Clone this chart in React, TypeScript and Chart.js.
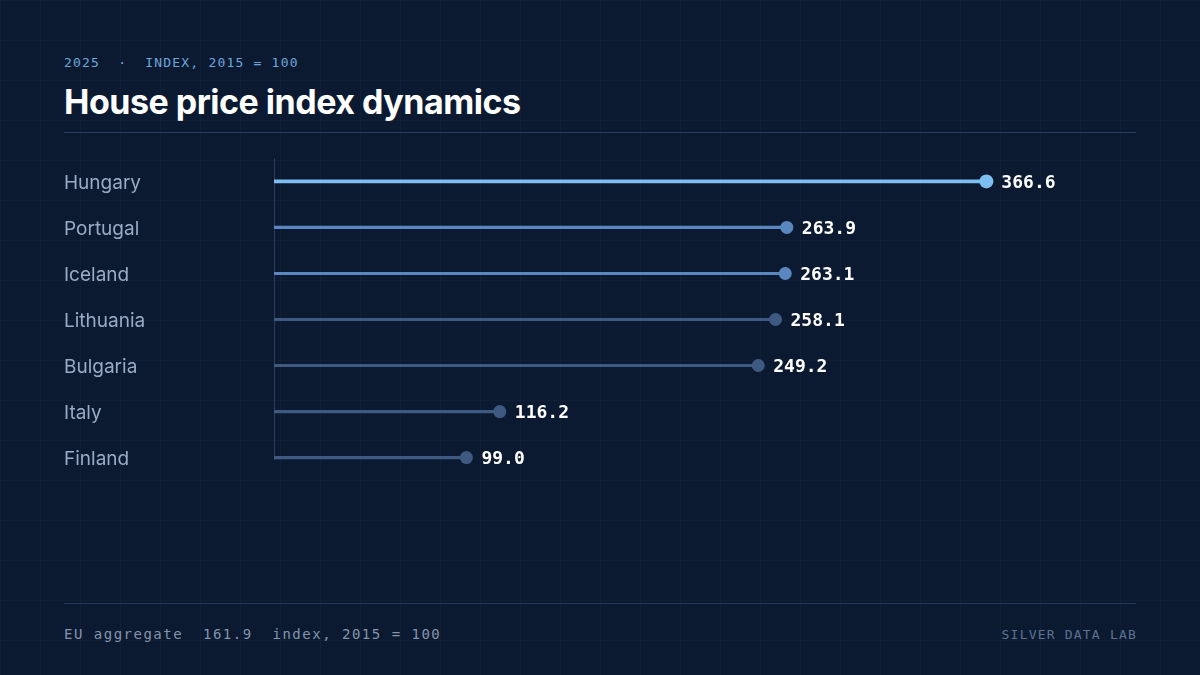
import React, { useEffect, useRef } from "react";
import { Chart, registerables } from "chart.js";

Chart.register(...registerables);

const countries = ["Hungary", "Portugal", "Iceland", "Lithuania", "Bulgaria", "Italy", "Finland"];
const values = [366.6, 263.9, 263.1, 258.1, 249.2, 116.2, 99.0];
const tiers = [0, 1, 1, 2, 2, 2, 2];
const tierColors = ["#7dbff2", "#5b87c0", "#3f5a82"];
const xMax = 440;

const BG = "#0b1a31";

export default function App() {
  const ref = useRef<HTMLCanvasElement | null>(null);

  useEffect(() => {
    document.body.style.margin = "0";
    const canvas = ref.current;
    if (!canvas) return;

    const stemsMain = values.map((v, i) => (tiers[i] === 0 ? v : null));
    const stemsRest = values.map((v, i) => (tiers[i] !== 0 ? v : null));

    const extras = {
      id: "lollipopExtras",
      beforeDatasetsDraw(chart: any) {
        const { ctx, chartArea } = chart;
        const yScale = chart.scales.y;
        const lastY = yScale.getPixelForValue(countries.length - 1);
        ctx.save();
        ctx.strokeStyle = "#2b3e5e";
        ctx.lineWidth = 1;
        ctx.beginPath();
        ctx.moveTo(chartArea.left + 0.5, chartArea.top);
        ctx.lineTo(chartArea.left + 0.5, lastY + 2);
        ctx.stroke();
        ctx.restore();
      },
      afterDatasetsDraw(chart: any) {
        const { ctx } = chart;
        const meta = chart.getDatasetMeta(2);
        ctx.save();
        ctx.font = "bold 18px 'DejaVu Sans Mono', monospace";
        ctx.fillStyle = "#ffffff";
        ctx.textAlign = "left";
        ctx.textBaseline = "middle";
        meta.data.forEach((pt: any, i: number) => {
          ctx.fillText(values[i].toFixed(1), pt.x + 15, pt.y + 2);
        });
        ctx.restore();
      },
    };

    const chart = new Chart(canvas, {
      data: {
        labels: countries,
        datasets: [
          {
            type: "bar",
            data: stemsMain as any,
            backgroundColor: tierColors[0],
            barThickness: 3,
            grouped: false,
            borderWidth: 0,
          } as any,
          {
            type: "bar",
            data: stemsRest as any,
            backgroundColor: values.map((_, i) => tierColors[tiers[i]]),
            barThickness: 2.5,
            grouped: false,
            borderWidth: 0,
          } as any,
          {
            type: "line",
            indexAxis: "y",
            data: values,
            showLine: false,
            pointRadius: values.map((_, i) => (tiers[i] === 0 ? 7 : 6.5)),
            pointBackgroundColor: values.map((_, i) => tierColors[tiers[i]]),
            pointBorderWidth: 0,
            pointHoverRadius: 7,
          } as any,
        ],
      },
      options: {
        indexAxis: "y",
        responsive: false,
        animation: false,
        maintainAspectRatio: false,
        layout: { padding: { left: 0, right: 6, top: 0, bottom: 0 } },
        plugins: {
          legend: { display: false },
          tooltip: { enabled: false },
        },
        scales: {
          x: {
            display: false,
            min: 0,
            max: xMax,
          },
          y: {
            type: "category",
            grid: { display: false, drawTicks: false },
            border: { display: false },
            afterFit: (s: any) => {
              s.width = 210;
            },
            ticks: {
              crossAlign: "far",
              padding: 0,
              labelOffset: 2,
              color: "#9aabc5",
              font: { family: "Inter, 'Noto Sans', sans-serif", size: 19, weight: 400 },
            },
          },
        },
      } as any,
      plugins: [extras],
    });
    return () => chart.destroy();
  }, []);

  const mono = "'DejaVu Sans Mono', 'Liberation Mono', monospace";

  return (
    <div
      style={{
        position: "relative",
        width: 1200,
        height: 675,
        overflow: "hidden",
        backgroundColor: BG,
        backgroundImage:
          "linear-gradient(rgba(255,255,255,0.025) 1px, transparent 1px), linear-gradient(90deg, rgba(255,255,255,0.025) 1px, transparent 1px)",
        backgroundSize: "40px 40px",
        fontFamily: "Inter, sans-serif",
      }}
    >
      <div
        style={{
          position: "absolute",
          left: 64,
          top: 55,
          fontFamily: mono,
          fontSize: 13,
          letterSpacing: "1.2px",
          color: "#6ea6dc",
          whiteSpace: "pre",
          lineHeight: "16px",
        }}
      >
        {"2025  ·  INDEX, 2015 = 100"}
      </div>
      <div
        style={{
          position: "absolute",
          left: 64,
          top: 81,
          fontSize: 34,
          fontWeight: 700,
          color: "#ffffff",
          letterSpacing: "-0.5px",
          lineHeight: "42px",
        }}
      >
        House price index dynamics
      </div>
      <div style={{ position: "absolute", left: 64, top: 132, width: 1072, height: 1, background: "#2b3d5d" }} />
      <canvas
        ref={ref}
        width={1072}
        height={345}
        style={{ position: "absolute", left: 64, top: 147, width: 1072, height: 345 }}
      />
      <div style={{ position: "absolute", left: 64, top: 603, width: 1072, height: 1, background: "#24365a" }} />
      <div
        style={{
          position: "absolute",
          left: 64,
          top: 626,
          fontFamily: mono,
          fontSize: 14,
          letterSpacing: "1.5px",
          color: "#8594ab",
          whiteSpace: "pre",
          lineHeight: "17px",
        }}
      >
        {"EU aggregate  161.9  index, 2015 = 100"}
      </div>
      <div
        style={{
          position: "absolute",
          right: 63,
          top: 626,
          fontFamily: mono,
          fontSize: 13,
          color: "#5d7391",
          whiteSpace: "pre",
          lineHeight: "17px",
          letterSpacing: "1.2px",
        }}
      >
        SILVER DATA LAB
      </div>
    </div>
  );
}
